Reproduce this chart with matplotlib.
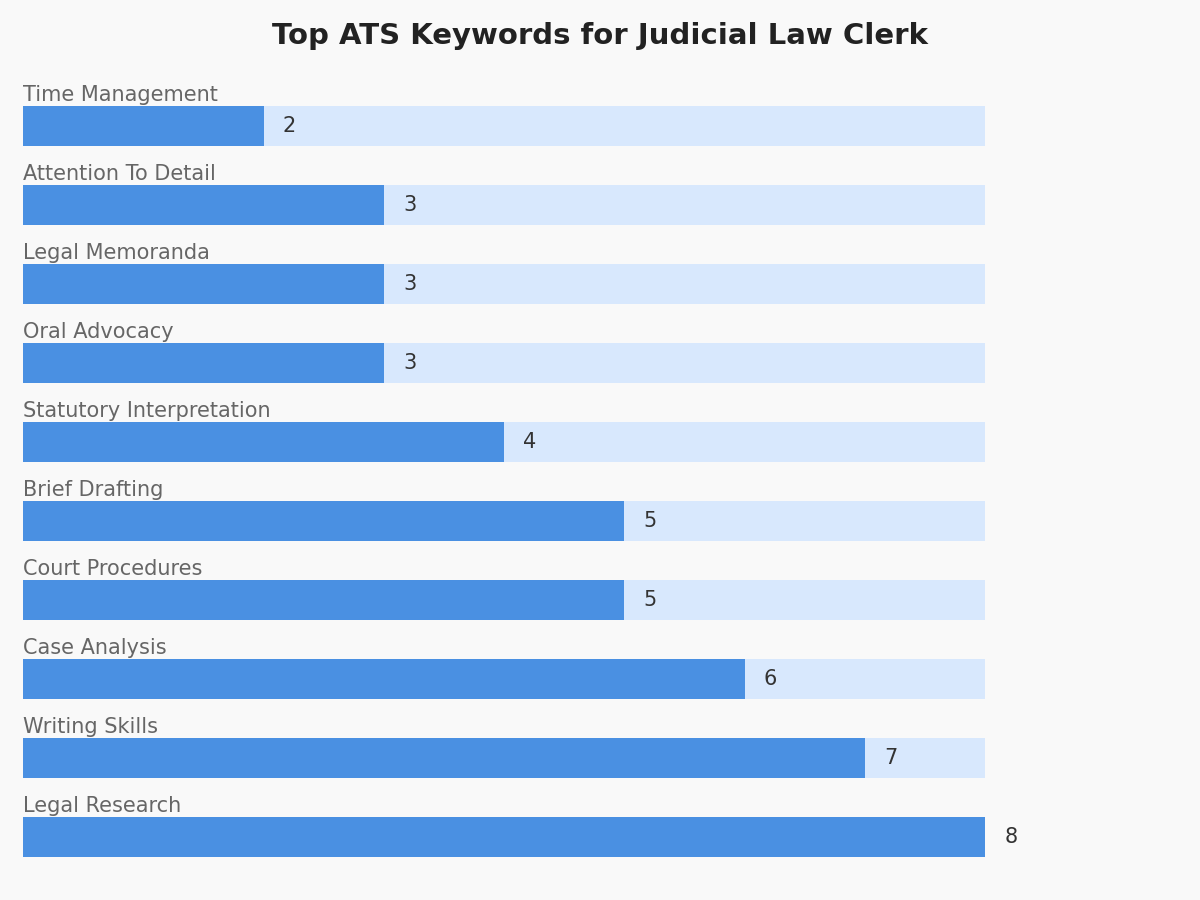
import matplotlib
matplotlib.use('Agg')
import matplotlib.pyplot as plt

# data (top to bottom)
keywords = ['Time Management', 'Attention To Detail', 'Legal Memoranda', 'Oral Advocacy',
            'Statutory Interpretation', 'Brief Drafting', 'Court Procedures', 'Case Analysis',
            'Writing Skills', 'Legal Research']
counts = [2, 3, 3, 3, 4, 5, 5, 6, 7, 8]

bg = '#f9f9f9'
fig = plt.figure(figsize=(12, 9), dpi=100, facecolor=bg)
ax = fig.add_axes([23 / 1200, (900 - 876.5) / 900, 962 / 1200, 790 / 900])
ax.set_facecolor(bg)

max_val = max(counts)
pos = list(range(len(keywords)))
ax.barh(pos, [max_val] * len(pos), height=0.5, color='#d8e8fd', zorder=1)
ax.barh(pos, counts, height=0.5, color='#4a90e2', zorder=2)

for i, (k, v) in enumerate(zip(keywords, counts)):
    ax.text(0, i - 0.39, k, ha='left', va='center', fontsize=15, color='#666666')
    ax.text(v + 0.16, i, str(v), ha='left', va='center', fontsize=15, color='#333333')

ax.set_xlim(0, max_val)
ax.set_ylim(len(pos) - 0.5, -0.5)
ax.axis('off')

fig.suptitle('Top ATS Keywords for Judicial Law Clerk', y=1 - 36 / 900, va='center',
             fontsize=21, fontweight='bold', color='#222222')

fig.savefig('out.png', dpi=100, facecolor=bg)
